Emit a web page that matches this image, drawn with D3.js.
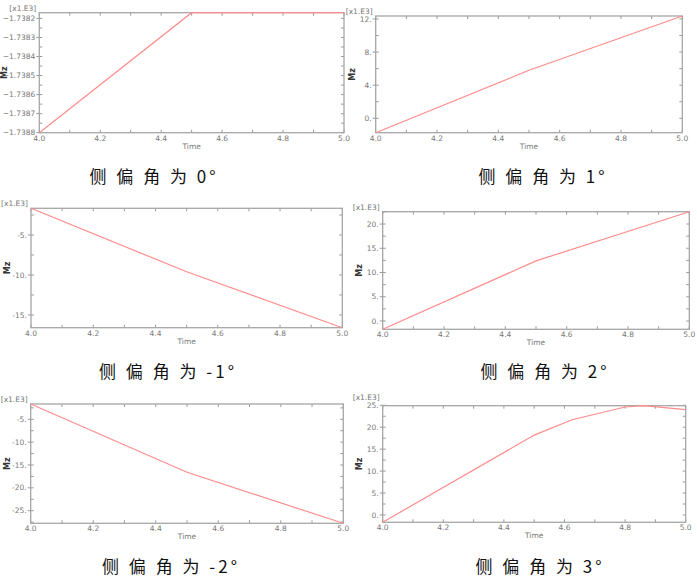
<!DOCTYPE html>
<html>
<head>
<meta charset="utf-8">
<script src="https://cdn.jsdelivr.net/npm/d3@7"></script>
<style>
  body { margin: 0; background: #fff; }
  .tick-label { font-family: "DejaVu Sans", sans-serif; font-size: 7.5px; fill: #777; }
  .axis-title { font-family: "DejaVu Sans", sans-serif; font-size: 7.5px; fill: #777; }
  .mz-title { font-family: "DejaVu Sans", sans-serif; font-size: 8px; font-weight: bold; fill: #333; }
  .caption { font-family: "Noto Sans CJK SC", sans-serif; font-size: 17px; fill: #111; }
</style>
</head>
<body>
<div id="chart"></div>
<script>
// Time samples (s)
const timeA = [4.0, 4.5, 5.0];
const timeB = [4.0, 4.5, 4.625, 4.8, 4.86, 5.0];

// Mz values [x1.E3] for each yaw angle
const mzYaw0 = [-1.7388, -1.73817, -1.73817];
const mzYaw1 = [-1.74, 5.8, 12.36];
const mzYawN1 = [-1.66, -9.6, -16.59];
const mzYaw2 = [-1.71, 12.4, 22.54];
const mzYawN2 = [-1.65, -16.6, -27.76];
const mzYaw3 = [-1.67, 18.2, 21.7, 24.6, 24.9, 24.0];

// axis tick values
const xTicks = [4.0, 4.2, 4.4, 4.6, 4.8, 5.0];
const yTicks0 = [-1.7388, -1.7387, -1.7386, -1.7385, -1.7384, -1.7383, -1.7382];
const yTicks1 = [0, 4, 8, 12];
const yTicksN1 = [-5, -10, -15];
const yTicks2 = [0, 5, 10, 15, 20];
const yTicksN2 = [-5, -10, -15, -20, -25];
const yTicks3 = [0, 5, 10, 15, 20, 25];

const captions = ["侧 偏 角 为 0°", "侧 偏 角 为 1°", "侧 偏 角 为 -1°",
                  "侧 偏 角 为 2°", "侧 偏 角 为 -2°", "侧 偏 角 为 3°"];

const width = 697, height = 585;

// frame boxes and caption anchors
const panels = [
    { t: timeA, v: mzYaw0, ticks: yTicks0, step: 0.00005, fmt: d3.format(".4f"), box: [39.3, 12.7, 344, 132.7], cap: [154, 183], mzOff: 32, scaleUp: 2 },
    { t: timeA, v: mzYaw1, ticks: yTicks1, step: 2, fmt: d => d + ".", box: [375.7, 16, 682.3, 132.7], cap: [543, 183], mzOff: 21, scaleUp: 2 },
    { t: timeA, v: mzYawN1, ticks: yTicksN1, step: 2.5, fmt: d => d + ".", box: [31, 208.3, 342.3, 327.7], cap: [168, 378], mzOff: 21, scaleUp: 2 },
    { t: timeA, v: mzYaw2, ticks: yTicks2, step: 2.5, fmt: d => d + ".", box: [382.7, 211.7, 689.3, 329.3], cap: [545, 378], mzOff: 21, scaleUp: 2 },
    { t: timeA, v: mzYawN2, ticks: yTicksN2, step: 2.5, fmt: d => d + ".", box: [30.7, 404, 343.3, 523.3], cap: [171, 573], mzOff: 21, scaleUp: 2 },
    { t: timeB, v: mzYaw3, ticks: yTicks3, step: 2.5, fmt: d => d + ".", box: [382.7, 405.7, 685.7, 522.3], cap: [540, 573], mzOff: 21, scaleUp: 6 }
];

const svg = d3.select("#chart").append("svg")
    .attr("width", width)
    .attr("height", height);

panels.forEach((p, i) => {
    const [x0, y0, x1, y1] = p.box;
    const data = p.t.map((t, k) => ({ t: t, v: p.v[k] }));
    const yExt = d3.extent(p.v);

    const xScale = d3.scaleLinear().domain([4.0, 5.0]).range([x0, x1]);
    const yScale = d3.scaleLinear().domain(yExt).range([y1, y0]);

    const g = svg.append("g").attr("class", "panel");

    // minor / major ticks, inward on every side
    const xMinor = d3.range(4.0, 5.001, 0.1);
    xMinor.forEach(t => {
        const x = xScale(t);
        g.append("line").attr("x1", x).attr("x2", x).attr("y1", y1).attr("y2", y1 - 3)
            .attr("stroke", "#999").attr("stroke-width", 1);
        g.append("line").attr("x1", x).attr("x2", x).attr("y1", y0).attr("y2", y0 + 3)
            .attr("stroke", "#999").attr("stroke-width", 1);
    });

    const eps = (yExt[1] - yExt[0]) * 0.01;
    const yMinor = d3.range(p.ticks[0] - p.step * 20, p.ticks[0] + p.step * 40, p.step)
        .filter(v => v >= yExt[0] - eps && v <= yExt[1] + eps);
    yMinor.forEach(v => {
        const y = yScale(v);
        g.append("line").attr("x1", x0).attr("x2", x0 + 3).attr("y1", y).attr("y2", y)
            .attr("stroke", "#999").attr("stroke-width", 1);
        g.append("line").attr("x1", x1).attr("x2", x1 - 3).attr("y1", y).attr("y2", y)
            .attr("stroke", "#999").attr("stroke-width", 1);
    });

    // frame
    g.append("rect")
        .attr("x", x0).attr("y", y0)
        .attr("width", x1 - x0).attr("height", y1 - y0)
        .attr("fill", "none")
        .attr("stroke", "#a6a6a6")
        .attr("stroke-width", 1.3);

    // y major ticks + labels
    p.ticks.filter(v => v >= yExt[0] - eps && v <= yExt[1] + eps).forEach(v => {
        const y = yScale(v);
        g.append("line").attr("x1", x0 - 3).attr("x2", x0).attr("y1", y).attr("y2", y)
            .attr("stroke", "#999").attr("stroke-width", 1);
        g.append("text").attr("class", "tick-label")
            .attr("x", x0 - 4).attr("y", y).attr("dy", "0.35em")
            .attr("text-anchor", "end")
            .text(p.fmt(v));
    });

    // x labels
    xTicks.forEach(t => {
        g.append("text").attr("class", "tick-label")
            .attr("x", xScale(t)).attr("y", y1 + 8)
            .attr("text-anchor", "middle")
            .text(d3.format(".1f")(t));
    });

    // the curve
    const line = d3.line().x(d => xScale(d.t)).y(d => yScale(d.v));
    g.append("path")
        .datum(data)
        .attr("d", line)
        .attr("fill", "none")
        .attr("stroke", "#ff8c8c")
        .attr("stroke-width", 1.2);

    // titles
    g.append("text").attr("class", "axis-title")
        .attr("x", x0 - 3).attr("y", y0 - p.scaleUp)
        .attr("text-anchor", "end")
        .text("[x1.E3]");

    g.append("text").attr("class", "axis-title")
        .attr("x", (x0 + x1) / 2).attr("y", y1 + 16)
        .attr("text-anchor", "middle")
        .text("Time");

    g.append("text").attr("class", "mz-title")
        .attr("transform", "translate(" + (x0 - p.mzOff) + "," + ((y0 + y1) / 2) + ") rotate(-90)")
        .attr("text-anchor", "middle")
        .text("Mz");

    // caption under the plot
    g.append("text").attr("class", "caption")
        .attr("x", p.cap[0]).attr("y", p.cap[1])
        .attr("text-anchor", "middle")
        .attr("letter-spacing", "3px")
        .attr("xml:space", "preserve")
        .style("white-space", "pre")
        .text(captions[i]);
});
</script>
</body>
</html>
